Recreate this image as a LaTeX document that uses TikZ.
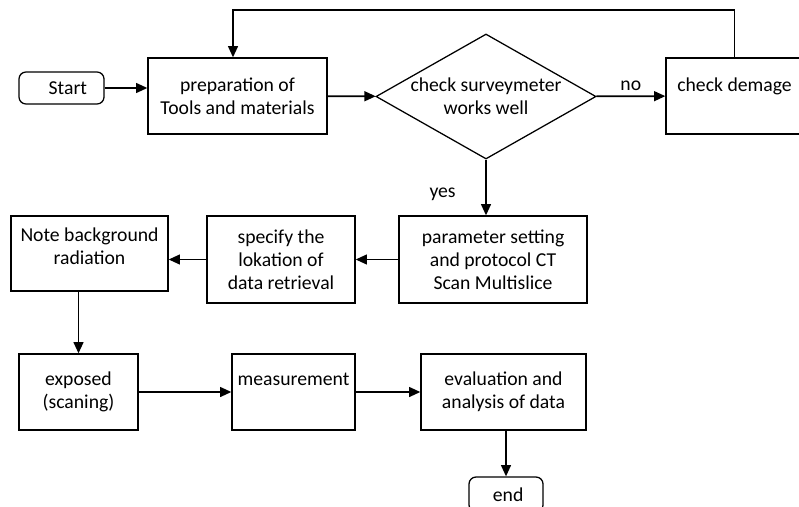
\documentclass[tikz,border=0pt]{standalone}
\usepackage{fontspec}
\setmainfont{Carlito}
\usetikzlibrary{arrows.meta,positioning,shapes.geometric}

\begin{document}
\begin{tikzpicture}[
  x=0.025cm,y=-0.025cm,>={Triangle[length=8pt,width=7pt]},
  flow/.style={->,line width=1.2pt},
  stepbox/.style={draw,line width=0.9pt,align=center,inner sep=2pt,
    minimum height=1.9cm},
  terminal/.style={draw,line width=0.9pt,rounded corners=5pt,align=center},
  decision/.style={draw,line width=0.9pt,diamond,minimum width=5.5cm,
    minimum height=3.125cm,inner sep=0pt},
  every node/.style={font=\fontsize{14}{16.5}\selectfont}
]
  \useasboundingbox (0,0) rectangle (799,506);
  \node[terminal,minimum width=2.125cm,minimum height=0.8cm] (start) at (61.5,88)
    {\hspace*{9pt}Start};
  \node[stepbox,minimum width=4.475cm] (preparation) at (237.5,96)
    {preparation of\\Tools and materials};
  \node[decision] (check) at (486,96.5) {};
  \node[align=center] (check-text) at (check) {check surveymeter\\works well};
  \node[stepbox,minimum width=3.425cm] (damage) at (734.5,96)
    {check demage\\[-6pt]\strut};
  \coordinate (loop) at (233,10);
  \node[stepbox,minimum width=4.7cm,minimum height=2.175cm] (parameter) at (493,259.5)
    {parameter setting\\and protocol CT\\Scan Multislice};
  \node[stepbox,minimum width=3.7cm,minimum height=2.175cm] (location) at (281,259.5)
    {specify the\\lokation of\\data retrieval};
  \node[stepbox,minimum width=3.925cm,minimum height=1.875cm] (background) at (89.5,253.5)
    {Note background\\radiation\\[-11pt]\strut};
  \node[stepbox,minimum width=2.975cm] (exposed) at (78.5,392)
    {exposed\\(scaning)};
  \node[stepbox,minimum width=3.075cm,inner sep=0pt] (measurement) at (293.5,392)
    {measurement\\[-4pt]\strut};
  \node[stepbox,minimum width=4.125cm] (evaluation) at (503.5,392)
    {evaluation and\\analysis of data};
  \node[terminal,minimum width=1.85cm,minimum height=0.875cm] (end) at (506,494.5)
    {\hspace*{3pt}end};

  \draw[flow] (start.east) -- (preparation.west |- start.east);
  \draw[flow] (preparation) -- (check);
  \draw[flow] (check) -- node[above] (no) {no} (damage);
  \draw[flow] (damage.north) |- (loop) -- (loop |- preparation.north);
  \draw[flow] (check.south) -- node[pos=0.63,left=0.62cm] (yes) {yes}
    (check.south |- parameter.north);
  \draw[flow] (parameter) -- (location);
  \draw[flow] (location.west) -- (background.east |- location.west);
  \draw[flow] (background.south -| exposed) -- (exposed.north);
  \draw[flow] (exposed) -- (measurement);
  \draw[flow] (measurement) -- (evaluation);
  \draw[flow] (evaluation.south -| end) -- (end.north);
\end{tikzpicture}
\end{document}
